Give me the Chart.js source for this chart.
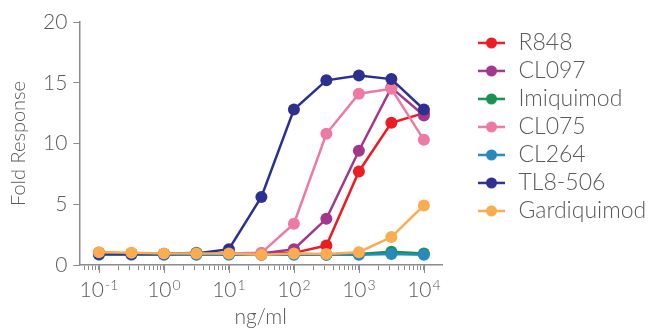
<!DOCTYPE html>
<html>
<head>
<meta charset="utf-8">
<script src="https://cdn.jsdelivr.net/npm/chart.js@4/dist/chart.umd.min.js"></script>
<style>
  html, body { margin: 0; padding: 0; background: #fff; }
  #wrap { width: 649px; height: 333px; }
</style>
</head>
<body>
<div id="wrap"><canvas id="chart"></canvas></div>
<script>
// concentrations (ng/ml)
const dose = [0.1, 0.316, 1, 3.16, 10, 31.6, 100, 316, 1000, 3162, 10000];

const names = ['R848', 'CL097', 'Imiquimod', 'CL075', 'CL264', 'TL8-506', 'Gardiquimod'];
const colors = ['#ec1c24', '#a2378e', '#17924f', '#ee7aa1', '#2889bd', '#2d3091', '#fbab50'];

const r848        = [1.0, 0.95, 0.9, 0.95, 0.9, 0.9, 1.0, 1.6, 7.7, 11.7, 12.5];
const cl097       = [1.0, 0.95, 0.9, 0.95, 0.95, 0.95, 1.3, 3.8, 9.4, 14.6, 12.3];
const imiquimod   = [0.9, 0.9, 0.9, 1.0, 0.9, 0.85, 0.9, 0.85, 0.9, 1.1, 0.95];
const cl075       = [1.0, 0.95, 0.9, 0.95, 0.95, 1.0, 3.4, 10.8, 14.1, 14.5, 10.3];
const cl264       = [0.85, 0.85, 0.85, 0.85, 0.85, 0.85, 0.85, 0.85, 0.85, 0.9, 0.85];
const tl8506      = [0.9, 0.9, 0.9, 0.95, 1.3, 5.6, 12.8, 15.2, 15.6, 15.3, 12.8];
const gardiquimod = [1.05, 1.0, 0.95, 0.95, 0.95, 0.85, 0.95, 0.9, 1.05, 2.3, 4.9];

const series = [r848, cl097, imiquimod, cl075, cl264, tl8506, gardiquimod];

const yTicks = [0, 5, 10, 15, 20];
const xExponents = [-1, 0, 1, 2, 3, 4];

const textColor = '#5a5a5a';
const axisColor = '#8c8c8c';
const font = 'Lato';
const legendWidth = 207;

// line+dot icon for the legend; left half left empty as a gap from the plot
function legendIcon(color) {
  const c = document.createElement('canvas');
  c.width = 60; c.height = 14;
  const g = c.getContext('2d');
  g.strokeStyle = color;
  g.lineWidth = 2.5;
  g.beginPath(); g.moveTo(31, 7); g.lineTo(58, 7); g.stroke();
  g.fillStyle = color;
  g.beginPath(); g.arc(44.5, 7, 5.5, 0, Math.PI * 2); g.fill();
  return c;
}

const datasets = names.map((n, i) => ({
  label: n,
  data: dose.map((d, j) => ({x: d, y: series[i][j]})),
  borderColor: colors[i],
  backgroundColor: colors[i],
  borderWidth: 2.5,
  pointRadius: 6,
  pointHoverRadius: 6,
  pointBorderWidth: 0,
  order: names.length - i
}));

// legend fit() ignores pointStyleWidth, so give it a fixed width
const legendSize = {
  id: 'legendSize',
  beforeLayout(chart) {
    const lg = chart.legend;
    if (!lg || lg._fixed) return;
    const fit = lg.fit.bind(lg);
    lg.fit = function () { fit(); this.width = legendWidth; };
    lg._fixed = true;
  }
};

// decade labels as 10 with raised exponent, plus longer tick marks there
const decadeLabels = {
  id: 'decadeLabels',
  afterDraw(chart) {
    const xs = chart.scales.x;
    const ctx = chart.ctx;
    ctx.save();
    ctx.strokeStyle = axisColor;
    ctx.lineWidth = 1;
    ctx.fillStyle = textColor;
    ctx.textBaseline = 'alphabetic';
    ctx.textAlign = 'left';
    for (const e of xExponents) {
      const px = xs.getPixelForValue(Math.pow(10, e));
      const rx = Math.round(px) + 0.5;
      ctx.beginPath();
      ctx.moveTo(rx, xs.top);
      ctx.lineTo(rx, xs.top + 8);
      ctx.stroke();

      const base = '10', ex = String(e);
      ctx.font = '300 21px ' + font;
      const wb = ctx.measureText(base).width;
      ctx.font = '300 14px ' + font;
      const we = ctx.measureText(ex).width;
      const x0 = px - (wb + 1 + we) / 2;
      ctx.font = '300 21px ' + font;
      ctx.fillText(base, x0, xs.top + 32);
      ctx.font = '300 14px ' + font;
      ctx.fillText(ex, x0 + wb + 1, xs.top + 25);
    }
    ctx.restore();
  }
};

new Chart(document.getElementById('chart'), {
  type: 'line',
  data: {datasets},
  options: {
    responsive: true,
    maintainAspectRatio: false,
    animation: false,
    layout: {padding: {top: 22, right: 0, bottom: 0, left: 7}},
    plugins: {
      tooltip: {enabled: false},
      legend: {
        position: 'right',
        align: 'start',
        title: {display: true, text: ' ', padding: 1, font: {size: 2}},
        labels: {
          usePointStyle: true,
          pointStyleWidth: 60,
          padding: 5,
          color: textColor,
          font: {family: font, size: 23, weight: '300'},
          generateLabels(chart) {
            return chart.data.datasets.map((ds, i) => ({
              text: ds.label,
              fillStyle: ds.borderColor,
              strokeStyle: ds.borderColor,
              pointStyle: legendIcon(ds.borderColor),
              fontColor: textColor,
              lineWidth: 0,
              datasetIndex: i,
              hidden: false
            }));
          }
        }
      }
    },
    scales: {
      x: {
        type: 'logarithmic',
        min: 0.05,
        max: 19000,
        afterBuildTicks(scale) {
          const t = [];
          for (let e = -2; e <= 4; e++) {
            for (let k = 1; k <= 9; k++) {
              const v = k * Math.pow(10, e);
              if (v >= 0.06 && v <= 19000) t.push({value: v});
            }
          }
          scale.ticks = t;
        },
        afterFit(scale) { scale.height = 68; },
        border: {display: true, color: axisColor, width: 1.5},
        grid: {display: true, drawOnChartArea: false, drawTicks: true, tickLength: 5, color: axisColor, tickColor: axisColor},
        ticks: {display: false},
        title: {display: true, text: 'ng/ml', color: textColor, padding: {top: 0, bottom: 3}, font: {family: font, size: 21, weight: '300'}}
      },
      y: {
        min: 0,
        max: 20,
        afterBuildTicks(scale) { scale.ticks = yTicks.map(v => ({value: v})); },
        border: {display: true, color: axisColor, width: 1.5},
        grid: {display: true, drawOnChartArea: false, drawTicks: true, tickLength: 6, color: axisColor, tickColor: axisColor},
        ticks: {padding: 6, color: textColor, font: {family: font, size: 21, weight: '300'}},
        title: {display: true, text: 'Fold Response', color: textColor, padding: {top: 0, bottom: 6}, font: {family: font, size: 20, weight: '300'}}
      }
    }
  },
  plugins: [legendSize, decadeLabels]
});
</script>
</body>
</html>
